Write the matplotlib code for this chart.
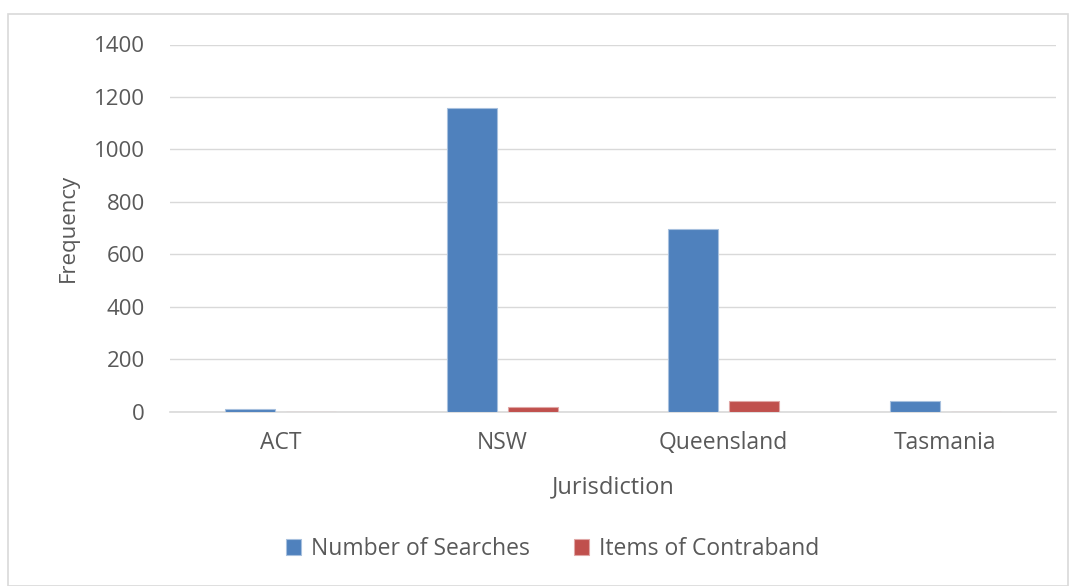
import matplotlib
matplotlib.use("Agg")
import matplotlib.pyplot as plt
import numpy as np
from matplotlib.patches import Rectangle

categories = ["ACT", "NSW", "Queensland", "Tasmania"]
searches = [8, 1157, 697, 39]
contraband = [0, 16, 40, 0]
series_names = ["Number of Searches", "Items of Contraband"]
yticks = [0, 200, 400, 600, 800, 1000, 1200, 1400]

plt.rcParams['font.family'] = ['Open Sans', 'DejaVu Sans']
txt = '#595959'

fig = plt.figure(figsize=(10.76, 5.86), dpi=100)
fig.patches.append(Rectangle((8/1076, 0.0), 1060/1076, 1 - 14/586, transform=fig.transFigure,
                             fill=False, edgecolor='#D9D9D9', linewidth=1.2, zorder=0))
ax = fig.add_axes([170/1076, 1 - 411.5/586, 886/1076, 367/586])

x = np.arange(len(categories))
w = 0.226
off = 0.138
ax.bar(x - off, searches, w, color='#4F81BD', edgecolor='#A7C0DE', linewidth=0.8,
       label=series_names[0], zorder=3)
ax.bar(x + off, contraband, w, color='#C0504D', edgecolor='#E0A7A6', linewidth=0.8,
       label=series_names[1], zorder=3)

ax.set_xlim(-0.5, len(categories) - 0.5)
ax.set_ylim(0, 1400)
ax.set_yticks(yticks)
ax.set_yticklabels([str(v) for v in yticks])
ax.set_xticks(x)
ax.set_xticklabels(categories)
ax.grid(axis='y', color='#D9D9D9', linewidth=1, zorder=0)
for s in ['top', 'right', 'left']:
    ax.spines[s].set_visible(False)
ax.spines['bottom'].set_color('#D9D9D9')
ax.spines['bottom'].set_linewidth(1.2)
ax.tick_params(axis='y', length=0, pad=18, labelsize=16, labelcolor=txt)
ax.tick_params(axis='x', length=0, pad=14, labelsize=16.5, labelcolor=txt)
ax.set_xlabel("Jurisdiction", fontsize=17, color=txt, labelpad=15)
ax.set_ylabel("Frequency", fontsize=16, color=txt, labelpad=11)

fig.legend(loc='center', bbox_to_anchor=(0.5135, 0.063), ncol=2, frameon=False,
           fontsize=16.5, labelcolor=txt, handlelength=0.65, handleheight=0.65,
           handletextpad=0.45, columnspacing=1.9)

fig.savefig("out.png", dpi=100)
